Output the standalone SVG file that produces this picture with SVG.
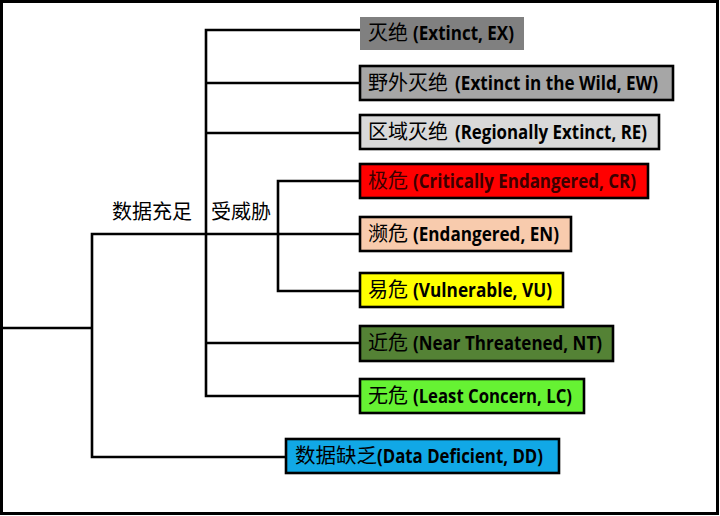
<svg xmlns="http://www.w3.org/2000/svg" width="720" height="516" viewBox="0 0 720 516">
<style>
.ln{stroke:#000;stroke-width:2.6;fill:none;stroke-linecap:square}
.bx{stroke:#000;stroke-width:2.6}
.z{font-family:"Noto Sans CJK SC",sans-serif;font-size:20px;fill:#000}
.e{font-family:"Open Sans","Noto Sans",sans-serif;font-weight:bold;font-size:19.5px;fill:#000}
text.cr{fill:#3c0000}
</style>
<rect x="1.5" y="1.5" width="716" height="512" fill="#fff" stroke="#000" stroke-width="3"/>
<g id="connectors">
<path class="ln" d="M2 328H92M92 234V457M92 234H278M92 457H286"/>
<path class="ln" d="M206 30V396M206 30H360M206 83H360M206 133H360M206 343H360M206 396H360"/>
<path class="ln" d="M278 181V291M278 181H360M278 234H360M278 291H360"/>
</g>
<g id="label-sufficient"><text class="z" x="112" y="219" textLength="80" lengthAdjust="spacingAndGlyphs">数据充足</text></g>
<g id="label-threatened"><text class="z" x="211" y="219" textLength="60" lengthAdjust="spacingAndGlyphs">受威胁</text></g>
<g id="EX"><rect x="360" y="17" width="164" height="33" fill="#808080"/>
<text class="z" x="368" y="40">灭绝</text><text class="e" x="413" y="40" textLength="101" lengthAdjust="spacingAndGlyphs">(Extinct, EX)</text></g>
<g id="EW"><rect class="bx" x="360" y="66" width="313" height="34" fill="#a6a6a6"/>
<text class="z" x="368" y="90">野外灭绝</text><text class="e" x="455" y="90" textLength="203" lengthAdjust="spacingAndGlyphs">(Extinct in the Wild, EW)</text></g>
<g id="RE"><rect class="bx" x="360" y="115" width="299" height="34" fill="#d9d9d9"/>
<text class="z" x="368" y="139">区域灭绝</text><text class="e" x="455" y="139" textLength="192" lengthAdjust="spacingAndGlyphs">(Regionally Extinct, RE)</text></g>
<g id="CR"><rect class="bx" x="360" y="164" width="288" height="34" fill="#ff0000"/>
<text class="z cr" x="368" y="188">极危</text><text class="e cr" x="413" y="188" textLength="223" lengthAdjust="spacingAndGlyphs">(Critically Endangered, CR)</text></g>
<g id="EN"><rect class="bx" x="360" y="217" width="211" height="34" fill="#f8cbad"/>
<text class="z" x="368" y="241">濒危</text><text class="e" x="413" y="241" textLength="146" lengthAdjust="spacingAndGlyphs">(Endangered, EN)</text></g>
<g id="VU"><rect class="bx" x="360" y="273" width="203" height="34" fill="#ffff00"/>
<text class="z" x="368" y="297">易危</text><text class="e" x="413" y="297" textLength="139" lengthAdjust="spacingAndGlyphs">(Vulnerable, VU)</text></g>
<g id="NT"><rect class="bx" x="360" y="326" width="253" height="35" fill="#548235"/>
<text class="z" x="368" y="350">近危</text><text class="e" x="413" y="350" textLength="189" lengthAdjust="spacingAndGlyphs">(Near Threatened, NT)</text></g>
<g id="LC"><rect class="bx" x="360" y="379" width="224" height="34" fill="#66f233"/>
<text class="z" x="368" y="403">无危</text><text class="e" x="413" y="403" textLength="159" lengthAdjust="spacingAndGlyphs">(Least Concern, LC)</text></g>
<g id="DD"><rect class="bx" x="286" y="439" width="273" height="34" fill="#11a8e6"/>
<text class="z" x="295" y="463" textLength="82" lengthAdjust="spacingAndGlyphs">数据缺乏</text><text class="e" x="377" y="463" textLength="166" lengthAdjust="spacingAndGlyphs">(Data Deficient, DD)</text></g>
</svg>
